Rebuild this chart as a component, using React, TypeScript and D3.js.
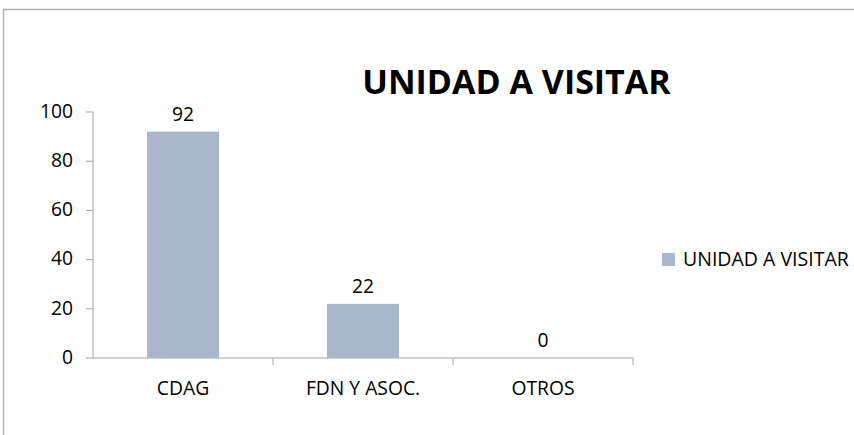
import React from "react";
import * as d3 from "d3";

const categories = ["CDAG", "FDN Y ASOC.", "OTROS"];
const values = [92, 22, 0];
const yTicks = [0, 20, 40, 60, 80, 100];
const seriesName = "UNIDAD A VISITAR";
const title = "UNIDAD A VISITAR";

const W = 854;
const H = 435;
const margin = { top: 112, right: 221, bottom: 77, left: 93 };
const BAR = "#AAB6CB";
const AXIS = "#A6A6A6";
const FONT = "'Open Sans', 'Liberation Sans', sans-serif";
const FS = 19.3;

export default function App() {
  const x = d3
    .scaleBand()
    .domain(categories)
    .range([margin.left, W - margin.right])
    .paddingInner(0.6)
    .paddingOuter(0.3);
  const y = d3
    .scaleLinear()
    .domain([0, 100])
    .range([H - margin.bottom, margin.top]);

  const x0 = margin.left;
  const x1 = W - margin.right;
  const y0 = y(0);
  const step = x.step();

  return (
    <svg
      width={W}
      height={H}
      style={{ position: "absolute", left: 0, top: 0 }}
      fontFamily={FONT}
    >
      <rect width={W} height={H} fill="#fff" />
      <rect x={3.5} y={9.5} width={W + 10} height={H + 10} fill="none" stroke="#B3B3B3" strokeWidth={1.5} />

      <text x={516.5} y={94} textAnchor="middle" fontSize={34} fontWeight="bold" fill="#000">
        {title}
      </text>

      {/* y axis */}
      <line x1={x0} x2={x0} y1={y(100)} y2={y0} stroke={AXIS} />
      {yTicks.map((t) => (
        <g key={t}>
          <line x1={x0 - 7} x2={x0} y1={y(t)} y2={y(t)} stroke={AXIS} />
          <text x={x0 - 20} y={y(t)} dy="0.3em" textAnchor="end" fontSize={FS} fill="#000">
            {t}
          </text>
        </g>
      ))}

      {/* x axis */}
      <line x1={x0} x2={x1} y1={y0} y2={y0} stroke={AXIS} />
      {categories.map((c, i) => (
        <line
          key={"t" + c}
          x1={x0 + step * (i + 1)}
          x2={x0 + step * (i + 1)}
          y1={y0}
          y2={y0 + 7}
          stroke={AXIS}
        />
      ))}

      {categories.map((c, i) => {
        const cx = (x(c) as number) + x.bandwidth() / 2;
        return (
          <g key={c}>
            <rect
              x={x(c)}
              y={y(values[i])}
              width={x.bandwidth()}
              height={y0 - y(values[i])}
              fill={BAR}
            />
            <text x={cx} y={y(values[i]) - 11} textAnchor="middle" fontSize={FS} fill="#000">
              {values[i]}
            </text>
            <text x={cx} y={395} textAnchor="middle" fontSize={FS} fill="#000">
              {c}
            </text>
          </g>
        );
      })}

      {/* legend */}
      <rect x={662} y={253} width={13} height={13} fill={BAR} />
      <text x={683} y={266} fontSize={19.5} fill="#000">
        {seriesName}
      </text>
    </svg>
  );
}
